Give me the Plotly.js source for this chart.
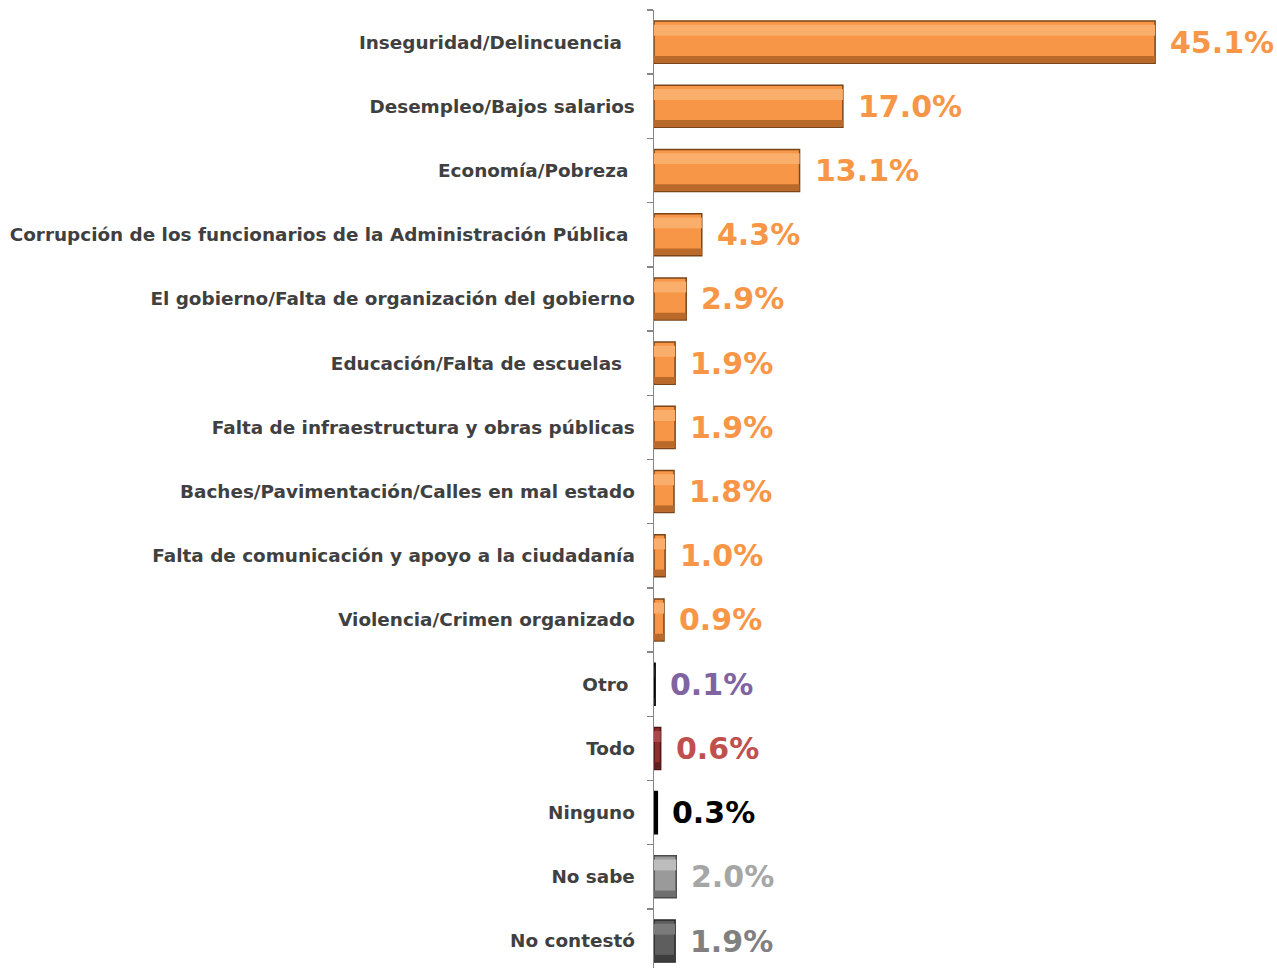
<!DOCTYPE html>
<html>
<head>
<meta charset="utf-8">
<script src="https://cdn.plot.ly/plotly-3.0.1.min.js"></script>
<style>html,body{margin:0;padding:0;background:#fff;}#chart{width:1277px;height:968px;}</style>
</head>
<body>
<div id="chart"></div>
<script>
const categories = [
  "Inseguridad/Delincuencia\u00a0\u00a0",
  "Desempleo/Bajos salarios",
  "Economía/Pobreza\u00a0",
  "Corrupción de los funcionarios de la Administración Pública\u00a0",
  "El gobierno/Falta de organización del gobierno",
  "Educación/Falta de escuelas\u00a0\u00a0",
  "Falta de infraestructura y obras públicas",
  "Baches/Pavimentación/Calles en mal estado",
  "Falta de comunicación y apoyo a la ciudadanía",
  "Violencia/Crimen organizado",
  "Otro\u00a0",
  "Todo",
  "Ninguno",
  "No sabe",
  "No contestó"
];
const values = [45.1, 17.0, 13.1, 4.3, 2.9, 1.9, 1.9, 1.8, 1.0, 0.9, 0.1, 0.6, 0.3, 2.0, 1.9];
const valueLabels = ["45.1%", "17.0%", "13.1%", "4.3%", "2.9%", "1.9%", "1.9%", "1.8%", "1.0%", "0.9%", "0.1%", "0.6%", "0.3%", "2.0%", "1.9%"];

const orange = "#F79646", orangeLine = "#7A4518", orangeLight = "#FAAE6C", orangeDark = "#B9692A";
const rep = (c, n) => Array(n).fill(c);
const barColors = rep(orange, 10).concat(["#1a1a1a", "#8B2F2D", "#000000", "#9A9A9A", "#5E5E5E"]);
const barLines = rep(orangeLine, 10).concat(["#000000", "#4d1413", "#000000", "#4a4a4a", "#262626"]);
const lightColors = rep(orangeLight, 10).concat(["#1a1a1a", "#A8484A", "#000000", "#BDBDBD", "#7A7A7A"]);
const darkColors = rep(orangeDark, 10).concat(["#1a1a1a", "#5E1F1E", "#000000", "#6E6E6E", "#3E3E3E"]);
const labelColors = rep(orange, 10).concat(["#8064A2", "#C0504D", "#000000", "#A6A6A6", "#808080"]);

const base = {
  type: "bar", orientation: "h", x: values, y: categories,
  width: 0.655,
  marker: {color: barColors, line: {color: barLines, width: 1.5}},
  hoverinfo: "skip"
};
const highlight = {
  type: "bar", orientation: "h", x: values, y: categories,
  width: 0.17, offset: -0.27,
  marker: {color: lightColors, line: {width: 0}},
  hoverinfo: "skip"
};
const shade = {
  type: "bar", orientation: "h", x: values, y: categories,
  width: 0.1, offset: 0.215,
  marker: {color: darkColors, line: {width: 0}},
  hoverinfo: "skip"
};

const annotations = values.map((v, i) => ({
  x: v, y: categories[i], xref: "x", yref: "y",
  text: valueLabels[i], showarrow: false, xanchor: "left", yanchor: "middle",
  xshift: 13,
  font: {family: "DejaVu Sans, sans-serif", size: 30, color: labelColors[i], weight: "bold"}
}));

const layout = {
  width: 1277, height: 968,
  margin: {l: 654, r: 0, t: 10, b: 0},
  paper_bgcolor: "#ffffff", plot_bgcolor: "#ffffff",
  showlegend: false,
  barmode: "overlay",
  xaxis: {range: [0, 56.07], visible: false, fixedrange: true},
  yaxis: {
    type: "category",
    autorange: false,
    range: [14.42, -0.5],
    showline: true, linecolor: "#868686", linewidth: 1.5,
    ticks: "outside", ticklen: 6, tickcolor: "#868686", tickwidth: 1.5,
    tickson: "boundaries",
    ticklabelstandoff: 14,
    showgrid: false, zeroline: false,
    tickfont: {family: "DejaVu Sans, sans-serif", size: 18.4, color: "#404040", weight: "bold"}
  },
  annotations: annotations
};

Plotly.newPlot("chart", [base, highlight, shade], layout, {displayModeBar: false, staticPlot: true});
</script>
</body>
</html>
